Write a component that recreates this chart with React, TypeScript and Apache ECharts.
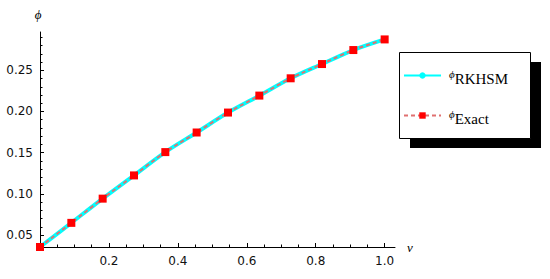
import React, { useEffect, useRef } from 'react';
import * as echarts from 'echarts';

const xValues = [0, 0.0909, 0.1818, 0.2727, 0.3636, 0.4545, 0.5455, 0.6364, 0.7273, 0.8182, 0.9091, 1.0];
const rkhsmValues = [0.0355, 0.0648, 0.0942, 0.1224, 0.1507, 0.1745, 0.1987, 0.2193, 0.2403, 0.2576, 0.2746, 0.2875];
const exactValues = [0.0355, 0.0648, 0.0942, 0.1224, 0.1507, 0.1745, 0.1987, 0.2193, 0.2403, 0.2576, 0.2746, 0.2875];

const xMajorTicks = [0, 0.2, 0.4, 0.6, 0.8, 1.0];
const xTickLabels = [0.2, 0.4, 0.6, 0.8, 1.0];
const xMinorTicks = [0.05, 0.1, 0.15, 0.25, 0.3, 0.35, 0.45, 0.5, 0.55, 0.65, 0.7, 0.75, 0.85, 0.9, 0.95];
const yTickLabels = [0.05, 0.1, 0.15, 0.2, 0.25];
const yMinorTicks = [0.04, 0.06, 0.07, 0.08, 0.09, 0.11, 0.12, 0.13, 0.14, 0.16, 0.17, 0.18, 0.19, 0.21, 0.22, 0.23, 0.24, 0.26, 0.27, 0.28, 0.29];

const seriesNames = ['RKHSM', 'Exact'];

const X_MIN = 0;
const X_MAX = 1.03;
const Y_MIN = 0.0355;
const Y_MAX = 0.2965;

export default function App() {
  const ref = useRef<HTMLDivElement>(null);
  useEffect(() => {
    if (!ref.current) return;
    const chart = echarts.init(ref.current, null, { renderer: 'svg' });
    const labelFont = { fontFamily: 'DejaVu Sans', fontSize: 12, color: '#111' };
    const pts = (ys: number[]) => xValues.map((x, i) => [x, ys[i]]);
    chart.setOption({
      animation: false,
      backgroundColor: '#fff',
      grid: { left: 40, top: 32, right: 155, bottom: 32, containLabel: false },
      xAxis: [
        {
          type: 'value', min: X_MIN, max: X_MAX,
          axisLine: { show: true, onZero: false, lineStyle: { color: '#000', width: 1 } },
          axisTick: { show: true, inside: true, length: 4, customValues: xMajorTicks, lineStyle: { color: '#000' } },
          axisLabel: { show: true, customValues: xTickLabels, margin: 8, formatter: (v: number) => v.toFixed(1), ...labelFont },
          splitLine: { show: false },
        },
        {
          type: 'value', min: X_MIN, max: X_MAX, position: 'bottom',
          axisLine: { show: false, onZero: false },
          axisTick: { show: true, inside: true, length: 2.5, customValues: xMinorTicks, lineStyle: { color: '#000' } },
          axisLabel: { show: false },
          splitLine: { show: false },
        },
      ],
      yAxis: [
        {
          type: 'value', min: Y_MIN, max: Y_MAX,
          axisLine: { show: true, onZero: false, lineStyle: { color: '#000', width: 1 } },
          axisTick: { show: true, inside: true, length: 4, customValues: yTickLabels, lineStyle: { color: '#000' } },
          axisLabel: { show: true, customValues: yTickLabels, margin: 7, formatter: (v: number) => v.toFixed(2), ...labelFont },
          splitLine: { show: false },
        },
        {
          type: 'value', min: Y_MIN, max: Y_MAX, position: 'left',
          axisLine: { show: false, onZero: false },
          axisTick: { show: true, inside: true, length: 2.5, customValues: yMinorTicks, lineStyle: { color: '#000' } },
          axisLabel: { show: false },
          splitLine: { show: false },
        },
      ],
      legend: {
        orient: 'vertical',
        left: 403,
        top: 68,
        padding: 0,
        itemWidth: 37,
        itemHeight: 8,
        itemGap: 22,
        data: seriesNames,
        formatter: (name: string) => `{a|ϕ}{b|${name}}`,
        textStyle: {
          rich: {
            a: { fontFamily: 'Liberation Serif', fontStyle: 'italic', fontSize: 11, lineHeight: 12, verticalAlign: 'top', padding: [0, 0, 0, 3], color: '#000' },
            b: { fontFamily: 'Liberation Serif', fontSize: 15, lineHeight: 15, verticalAlign: 'top', padding: [3, 0, 0, 0], color: '#000' },
          },
        },
        z: 10,
      },
      graphic: [
        { type: 'rect', shape: { x: 410, y: 62, width: 131, height: 86 }, style: { fill: '#000' }, z: 5 },
        { type: 'rect', shape: { x: 399.5, y: 52.5, width: 131, height: 86 }, style: { fill: '#fff', stroke: '#000', lineWidth: 1 }, z: 6 },
        { type: 'text', x: 38, y: 14.5, style: { text: 'ϕ', fontFamily: 'Liberation Serif', fontStyle: 'italic', fontSize: 13, fill: '#000', align: 'center', verticalAlign: 'middle' }, z: 10 },
        { type: 'text', x: 410, y: 247, style: { text: 'ν', fontFamily: 'Liberation Serif', fontStyle: 'italic', fontSize: 13, fill: '#000', align: 'center', verticalAlign: 'middle' }, z: 10 },
      ],
      series: [
        {
          name: seriesNames[0],
          type: 'line',
          data: pts(rkhsmValues),
          smooth: 0.3,
          symbol: 'circle',
          symbolSize: 5,
          itemStyle: { color: '#00ffff', borderWidth: 0 },
          lineStyle: { color: '#00ffff', width: 4 },
          z: 2,
        },
        {
          name: seriesNames[1],
          type: 'line',
          data: pts(exactValues),
          smooth: 0.3,
          symbol: 'rect',
          symbolSize: 8,
          itemStyle: { color: '#ff0000', borderWidth: 0 },
          lineStyle: { color: '#e07070', width: 2, type: [4, 3] },
          z: 3,
        },
      ],
    });
    return () => chart.dispose();
  }, []);
  return <div ref={ref} style={{ position: 'absolute', left: 0, top: 0, width: 550, height: 279 }} />;
}
